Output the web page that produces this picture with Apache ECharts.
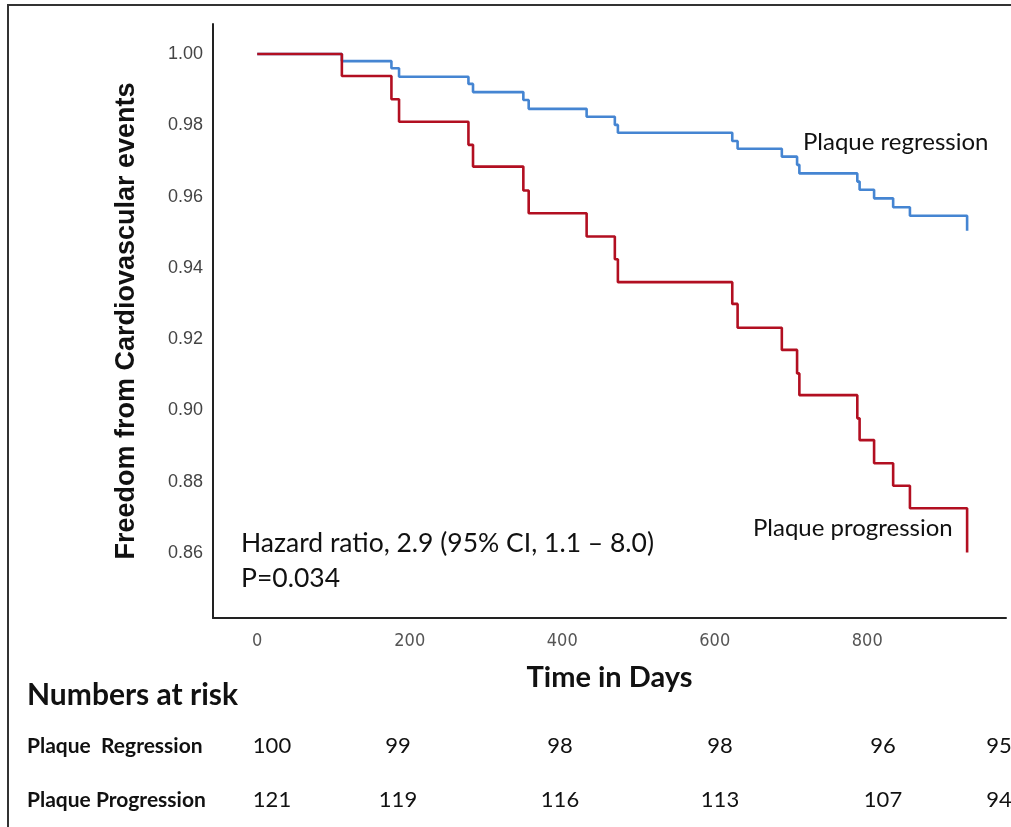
<!DOCTYPE html>
<html>
<head>
<meta charset="utf-8">
<script src="https://cdn.jsdelivr.net/npm/echarts@6/dist/echarts.min.js"></script>
<style>
html,body{margin:0;padding:0;background:#fff;}
#chart{width:1011px;height:827px;}
</style>
</head>
<body>
<div id="chart"></div>
<script>
// ---- data ----
var eventDays = [0, 111, 176, 186, 277, 283, 349, 356, 432, 469, 473, 623, 630, 688, 708, 711, 787, 790, 809, 834, 856, 931];
var regressionSurv = [1.000, 0.9980, 0.9960, 0.9936, 0.9916, 0.9893, 0.9871, 0.9846, 0.9824, 0.9801, 0.9779, 0.9756, 0.9734, 0.9712, 0.9689, 0.9665, 0.9642, 0.9619, 0.9595, 0.9570, 0.9546, 0.9504];
var progressionSurv = [1.000, 0.9938, 0.9873, 0.9810, 0.9745, 0.9684, 0.9617, 0.9553, 0.9488, 0.9424, 0.9360, 0.9299, 0.9232, 0.9170, 0.9104, 0.9043, 0.8978, 0.8917, 0.8852, 0.8789, 0.8726, 0.8602];
var xTicks = [0, 200, 400, 600, 800];
var yTicks = [0.86, 0.88, 0.90, 0.92, 0.94, 0.96, 0.98, 1.00];
var riskLabels = ['Plaque  Regression', 'Plaque Progression'];
var riskRegression = [100, 99, 98, 98, 96, 95];
var riskProgression = [121, 119, 116, 113, 107, 94];
var seriesNames = ['Plaque regression', 'Plaque progression'];
var statText = ['Hazard ratio, 2.9 (95% CI, 1.1 \u2013 8.0)', 'P=0.034'];

// ---- layout ----
var BLUE = '#4585d2', RED = '#b20f21';
var bodyFont = 'Lato, "Open Sans", sans-serif';
var riskColX = [272, 398, 560, 720, 883, 999];

function pairs(xs, ys){ return xs.map(function(x,i){ return [x, ys[i]]; }); }
function txt(x, y, s, font){
  return {type:'text', x:x, y:y, silent:true, style:{text:s, font:font, fill:'#111', verticalAlign:'middle'}};
}

var graphics = [
  {type:'rect', shape:{x:8,y:5,width:1020,height:840}, style:{fill:'none', stroke:'#333', lineWidth:2}, silent:true},
  txt(803, 142, seriesNames[0], '24px ' + bodyFont),
  txt(753, 528, seriesNames[1], '24px ' + bodyFont),
  txt(241, 543, statText[0], '26.5px ' + bodyFont),
  txt(241, 578, statText[1], '26.5px ' + bodyFont),
  txt(27, 695, 'Numbers at risk', 'bold 30px ' + bodyFont),
  txt(27, 746, riskLabels[0], 'bold 21px ' + bodyFont),
  txt(27, 800, riskLabels[1], 'bold 21px ' + bodyFont)
];
riskRegression.forEach(function(v,i){
  graphics.push({type:'text', x:riskColX[i], y:746, silent:true, style:{text:String(v), font:'22px ' + bodyFont, fill:'#111', align:'center', verticalAlign:'middle'}});
});
riskProgression.forEach(function(v,i){
  graphics.push({type:'text', x:riskColX[i], y:800, silent:true, style:{text:String(v), font:'22px ' + bodyFont, fill:'#111', align:'center', verticalAlign:'middle'}});
});

var chart = echarts.init(document.getElementById('chart'));
chart.setOption({
  animation:false,
  backgroundColor:'#fff',
  grid:{left:213, top:24, right:5, bottom:209, containLabel:false},
  xAxis:{
    type:'value', min:-58, max:982,
    name:'Time in Days', nameLocation:'middle', nameGap:45,
    nameTextStyle:{fontFamily:bodyFont, fontWeight:'bold', fontSize:29, color:'#111'},
    axisLine:{show:true, onZero:false, lineStyle:{color:'#222', width:2}},
    axisTick:{show:false},
    splitLine:{show:false},
    axisLabel:{customValues:xTicks, margin:14, fontFamily:'"Liberation Sans Narrow", "DejaVu Sans Condensed", sans-serif', fontSize:18, color:'#555'}
  },
  yAxis:{
    type:'value', min:0.8418, max:1.0084,
    name:'Freedom from Cardiovascular events', nameLocation:'middle', nameGap:73, nameRotate:90,
    nameTextStyle:{fontFamily:'"Liberation Sans", Arial, sans-serif', fontWeight:'bold', fontSize:27, color:'#111'},
    axisLine:{show:true, onZero:false, lineStyle:{color:'#222', width:2}},
    axisTick:{show:false},
    splitLine:{show:false},
    axisLabel:{customValues:yTicks, margin:10, fontFamily:'"Liberation Sans", Arial, sans-serif', fontSize:18, color:'#444',
      formatter:function(v){ return v.toFixed(2); }}
  },
  series:[
    {name:seriesNames[0], type:'line', step:'end', data:pairs(eventDays, regressionSurv), showSymbol:false, symbol:'none',
     lineStyle:{color:BLUE, width:2.6}, z:2},
    {name:seriesNames[1], type:'line', step:'end', data:pairs(eventDays, progressionSurv), showSymbol:false, symbol:'none',
     lineStyle:{color:RED, width:2.6}, z:3}
  ],
  graphic:graphics
});
</script>
</body>
</html>
